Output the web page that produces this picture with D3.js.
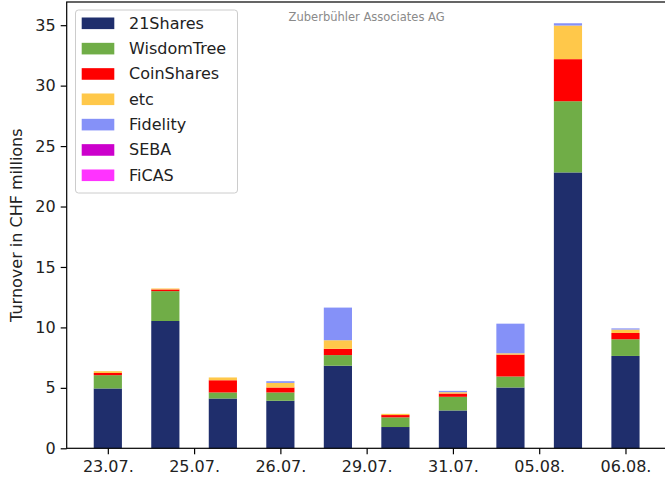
<!DOCTYPE html>
<html>
<head>
<meta charset="utf-8">
<script src="https://cdn.jsdelivr.net/npm/d3@7"></script>
<style>
body { margin: 0; background: #fff; }
svg { display: block; font-family: "DejaVu Sans", sans-serif; }
</style>
</head>
<body>
<svg width="665" height="481"></svg>
<script>
// values, CHF millions per day
const issuers = ["21Shares", "WisdomTree", "CoinShares", "etc", "Fidelity", "SEBA", "FiCAS"];
const colors = ["#1f2e6c", "#70ad47", "#ff0000", "#ffc84a", "#8591f8", "#cc00cc", "#ff33ff"];
const v21Shares   = [4.95, 10.53, 4.12, 3.93, 6.83, 1.76, 3.13, 5.03, 22.82, 7.64];
const vWisdomTree = [1.10, 2.47, 0.50, 0.69, 0.88, 0.80, 1.13, 0.91, 5.89, 1.38];
const vCoinShares = [0.18, 0.14, 1.01, 0.41, 0.52, 0.19, 0.27, 1.81, 3.48, 0.52];
const vEtc        = [0.15, 0.08, 0.23, 0.38, 0.71, 0.10, 0.11, 0.11, 2.78, 0.28];
const vFidelity   = [0.00, 0.00, 0.00, 0.14, 2.70, 0.00, 0.11, 2.45, 0.19, 0.10];
const vSEBA       = [0, 0, 0, 0, 0, 0, 0, 0, 0, 0];
const vFiCAS      = [0, 0, 0, 0, 0, 0, 0, 0, 0, 0];
const tickPos = [0, 1.5, 3, 4.5, 6, 7.5, 9];
const tickLabels = ["23.07.", "25.07.", "26.07.", "29.07.", "31.07.", "05.08.", "06.08."];
const yTicks = [0, 5, 10, 15, 20, 25, 30, 35];

const cols = [v21Shares, vWisdomTree, vCoinShares, vEtc, vFidelity, vSEBA, vFiCAS];
let rows = v21Shares.map((_, i) => {
    let r = { i: i };
    issuers.forEach((k, j) => r[k] = cols[j][i]);
    return r;
});

const svg = d3.select("svg");
const pLeft = 66.7, pRight = 666.6, pTop = 2, pBottom = 448.3;

let stacked = d3.stack().keys(issuers)(rows);
let maxTotal = d3.max(rows, r => d3.sum(issuers, k => r[k]));

const x = d3.scaleLinear().domain([-0.715, rows.length - 1 + 0.715]).range([pLeft, pRight]);
const y = d3.scaleLinear().domain([0, maxTotal * 1.05]).range([pBottom, pTop]);
const color = d3.scaleOrdinal().domain(issuers).range(colors);
const bw = 0.49;

svg.append("g").selectAll("g")
    .data(stacked)
    .join("g")
    .attr("fill", d => color(d.key))
    .selectAll("rect")
    .data(d => d)
    .join("rect")
    .attr("x", d => x(d.data.i - bw / 2))
    .attr("width", d => x(bw) - x(0))
    .attr("y", d => y(d[1]))
    .attr("height", d => Math.max(0, y(d[0]) - y(d[1])));

// axes
let xAxis = svg.append("g")
    .attr("transform", `translate(0,${pBottom})`)
    .call(d3.axisBottom(x).tickValues(tickPos).tickFormat((d, i) => tickLabels[i]).tickSize(6).tickPadding(6.5).tickSizeOuter(0));
let yAxis = svg.append("g")
    .attr("transform", `translate(${pLeft},0)`)
    .call(d3.axisLeft(y).tickValues(yTicks).tickSize(6).tickPadding(5).tickSizeOuter(0));
[xAxis, yAxis].forEach(a => {
    a.select(".domain").remove();
    a.selectAll("line").attr("stroke", "#000").attr("stroke-width", 1.2);
    a.selectAll("text").attr("font-size", 16).attr("fill", "#222").attr("font-family", "DejaVu Sans");
});

// spines
svg.append("rect")
    .attr("x", pLeft).attr("y", pTop)
    .attr("width", pRight - pLeft).attr("height", pBottom - pTop)
    .attr("fill", "none").attr("stroke", "#000").attr("stroke-width", 1.2);

svg.append("text")
    .attr("transform", `translate(17,${(pTop + pBottom) / 2}) rotate(-90)`)
    .attr("text-anchor", "middle")
    .attr("dominant-baseline", "middle")
    .attr("font-size", 16)
    .attr("fill", "#222")
    .text("Turnover in CHF millions");

// watermark
svg.append("text")
    .attr("x", (pLeft + pRight) / 2).attr("y", 20.5)
    .attr("text-anchor", "middle")
    .attr("font-size", 11.5)
    .attr("fill", "#8a8a8a")
    .text("Zuberbühler Associates AG");

// legend
let lg = svg.append("g").attr("transform", "translate(75.5,10)");
lg.append("rect")
    .attr("width", 162).attr("height", 183).attr("rx", 3)
    .attr("fill", "#fff").attr("fill-opacity", 0.8)
    .attr("stroke", "#cccccc");
let item = lg.selectAll(".item")
    .data(issuers)
    .join("g")
    .attr("transform", (d, i) => `translate(0,${13.3 + i * 25.33})`);
item.append("rect")
    .attr("x", 6.2).attr("y", -5.8)
    .attr("width", 32.6).attr("height", 11.6)
    .attr("fill", d => color(d));
item.append("text")
    .attr("x", 53.5).attr("y", 0)
    .attr("dominant-baseline", "central")
    .attr("font-size", 16)
    .attr("fill", "#222")
    .text(d => d);
</script>
</body>
</html>
